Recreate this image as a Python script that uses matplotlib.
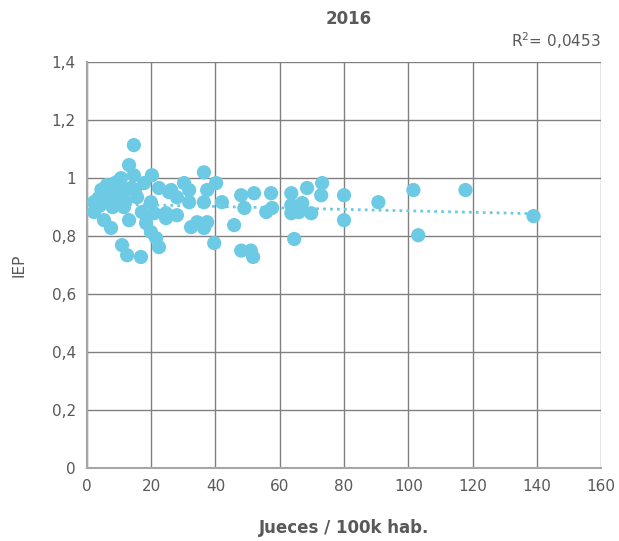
import numpy as np
import matplotlib
matplotlib.use("Agg")
import matplotlib.pyplot as plt
from matplotlib.ticker import FuncFormatter

# Data
jueces = [2.2, 2.2, 3.0, 3.5, 4.0, 4.5, 5.3, 5.3, 6.2, 6.5, 7.5, 7.5, 8.0, 8.5,
          9.0, 9.3, 10.6, 10.6, 10.9, 11.5, 12.0, 12.0, 12.5, 13.1, 13.1, 13.7,
          14.6, 14.6, 15.0, 15.6, 16.8, 17.1, 17.8, 18.4, 19.9, 19.9, 20.2, 20.9,
          21.5, 22.4, 22.4, 24.6, 24.6, 25.5, 25.0, 26.2, 28.0, 28.0, 30.2, 31.8,
          31.8, 32.4, 34.3, 36.4, 36.4, 36.4, 37.4, 37.4, 39.6, 40.2, 42.0, 45.8,
          48.0, 49.0, 48.0, 51.0, 51.7, 52.0, 55.8, 57.3, 57.6, 63.6, 63.6, 63.6,
          64.5, 66.0, 67.0, 68.5, 69.8, 72.9, 73.2, 80.0, 80.0, 90.7, 101.6, 103.1,
          117.8, 139.0]
iep = [0.917, 0.883, 0.90, 0.93, 0.905, 0.96, 0.952, 0.855, 0.976, 0.935, 0.917,
       0.828, 0.90, 0.95, 0.985, 0.966, 1.0, 0.931, 0.769, 0.90, 0.96, 0.92,
       0.734, 1.045, 0.855, 0.966, 1.114, 1.01, 0.96, 0.934, 0.728, 0.883,
       0.983, 0.845, 0.917, 0.814, 1.01, 0.879, 0.793, 0.966, 0.762, 0.879,
       0.862, 0.952, 0.872, 0.959, 0.934, 0.872, 0.983, 0.959, 0.917, 0.831,
       0.848, 1.02, 0.917, 0.828, 0.959, 0.848, 0.776, 0.983, 0.917, 0.838,
       0.941, 0.897, 0.75, 0.75, 0.728, 0.948, 0.883, 0.948, 0.897, 0.948,
       0.907, 0.879, 0.79, 0.883, 0.914, 0.966, 0.879, 0.941, 0.983, 0.941,
       0.855, 0.917, 0.959, 0.803, 0.959, 0.869]
x_ticks = [0, 20, 40, 60, 80, 100, 120, 140, 160]
y_ticks = [0, 0.2, 0.4, 0.6, 0.8, 1.0, 1.2, 1.4]
title = "2016"
r2_label = "R$^2$= 0,0453"
x_label = "Jueces / 100k hab."
y_label = "IEP"

color = "#6DCAE5"
text_color = "#595959"

fig = plt.figure(figsize=(6.19, 5.41), dpi=100)
ax = fig.add_axes([0.1405, 0.135, 0.8305, 0.750])

x = np.array(jueces)
y = np.array(iep)
ax.scatter(x, y, s=105, color=color, edgecolors="none", zorder=3)

coef = np.polyfit(x, y, 1)
xs = np.linspace(x.min(), x.max(), 100)
ax.plot(xs, np.polyval(coef, xs), linestyle=(0, (1, 1.5)), color=color,
        linewidth=2, zorder=2)

ax.set_xlim(0, 160)
ax.set_ylim(0, 1.4)
ax.set_xticks(x_ticks)
ax.set_yticks(y_ticks)

def fmt(v, pos):
    s = ("%.1f" % v).rstrip("0").rstrip(".")
    return s.replace(".", ",")

ax.yaxis.set_major_formatter(FuncFormatter(fmt))
ax.xaxis.set_major_formatter(FuncFormatter(fmt))

ax.grid(True, color="#808080", linewidth=1)
ax.set_axisbelow(True)
for side in ["top", "right"]:
    ax.spines[side].set_visible(False)
ax.spines["left"].set_color("#a6a6a6")
ax.spines["left"].set_linewidth(1.5)
ax.spines["bottom"].set_color("#a6a6a6")
ax.spines["bottom"].set_linewidth(1.5)
ax.tick_params(length=0, labelsize=11, colors=text_color, pad=8)

ax.set_xlabel(x_label, fontsize=12, color=text_color, fontweight="bold", labelpad=18)
ax.set_ylabel(y_label, fontsize=11, color=text_color, labelpad=18)
fig.text(0.564, 0.965, title, ha="center", va="center", fontsize=12,
         color=text_color, fontweight="bold")
fig.text(0.97, 0.925, r2_label, ha="right", va="center", fontsize=11,
         color=text_color)

fig.savefig("out.png", dpi=100)
